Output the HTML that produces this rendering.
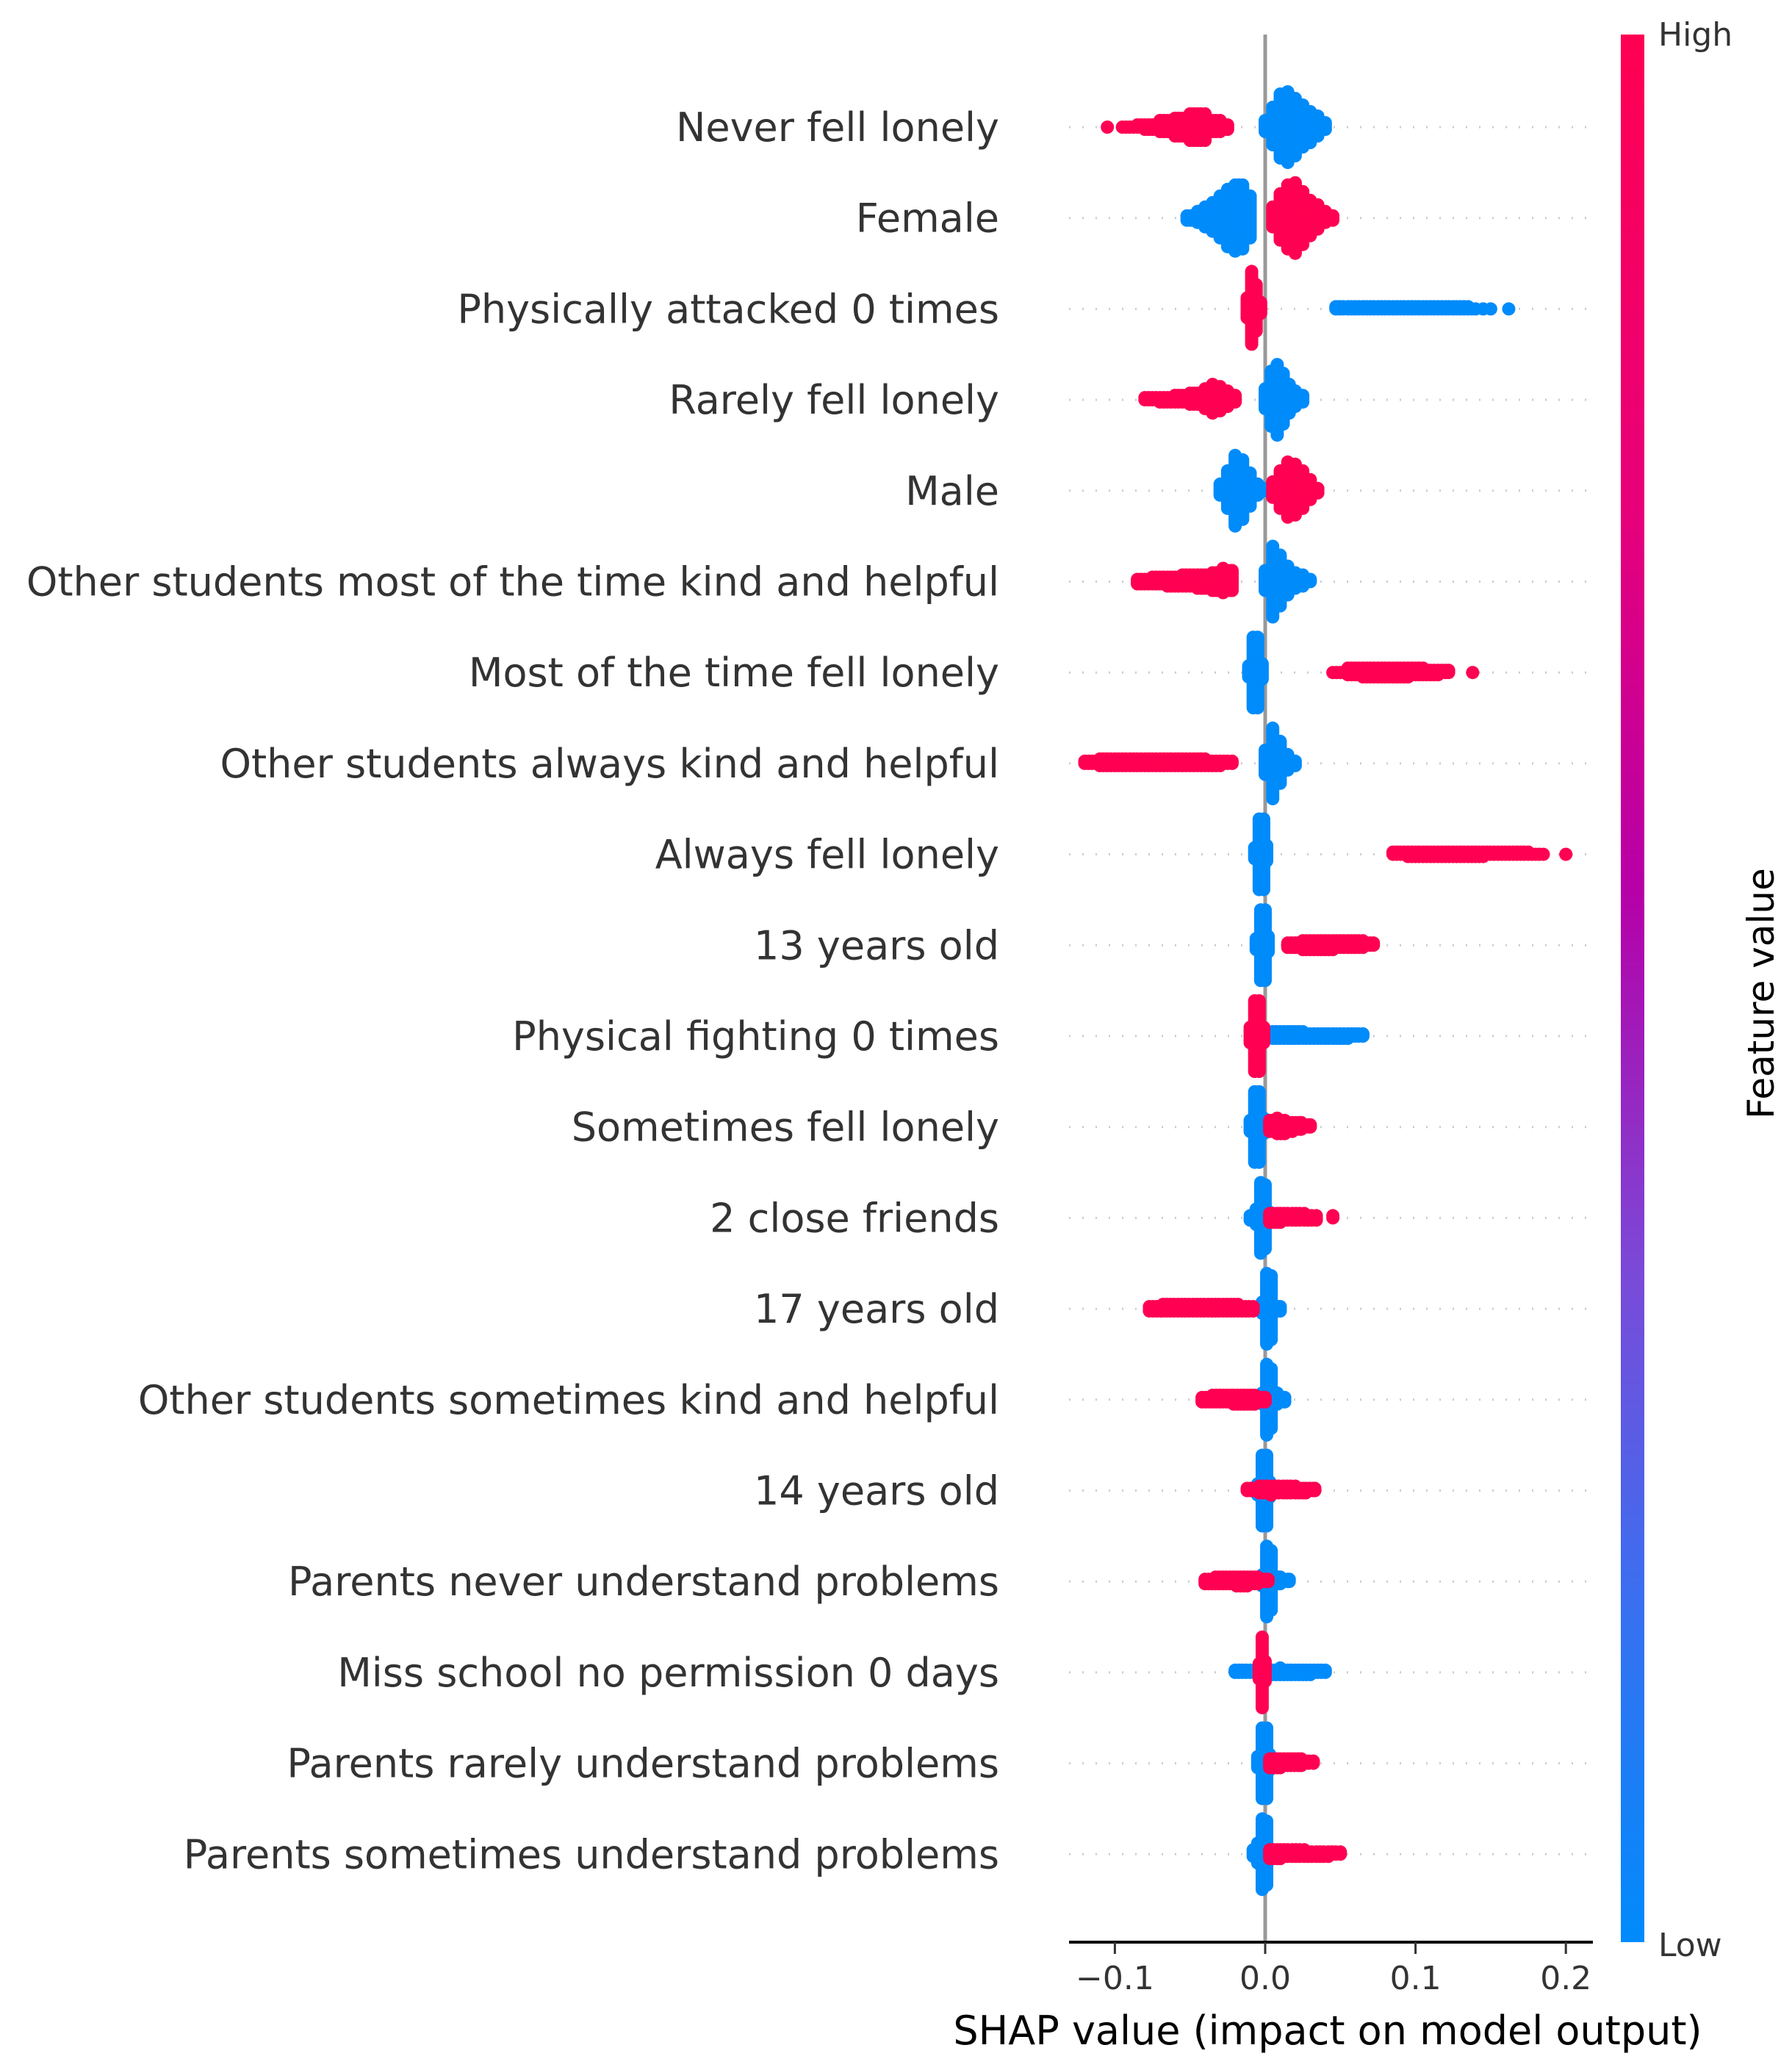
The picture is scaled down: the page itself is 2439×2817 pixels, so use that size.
<!DOCTYPE html>
<html><head><meta charset="utf-8"><style>
html,body{margin:0;padding:0;background:#fff;}
svg{display:block;font-family:"DejaVu Sans","Liberation Sans",sans-serif;}
</style></head><body>
<svg id="chart" width="2439" height="2817" viewBox="0 0 2439 2817" xmlns="http://www.w3.org/2000/svg" style="position:absolute;left:0;top:0">
<defs><linearGradient id="cb" x1="0" y1="0" x2="0" y2="1">
<stop offset="0" stop-color="#ff0052"/><stop offset="0.25" stop-color="#e7007a"/><stop offset="0.45" stop-color="#b600a8"/><stop offset="0.65" stop-color="#7a4ad8"/><stop offset="0.82" stop-color="#3a6ff0"/><stop offset="1" stop-color="#008bfb"/></linearGradient></defs>
<g id="grid"></g><g id="dots"></g><g id="axes"></g>
<text x="1807" y="2782" text-anchor="middle" font-size="54" fill="#000">SHAP value (impact on model output)</text>
<rect x="2206" y="47" width="32" height="2596" fill="url(#cb)"/>
<text x="2257" y="62" font-size="44" fill="#333">High</text>
<text x="2257" y="2662" font-size="44" fill="#333">Low</text>
<text x="2414" y="1352" transform="rotate(-90 2414 1352)" text-anchor="middle" font-size="50" fill="#000">Feature value</text>
</svg>
<script>
const featureNames=["Never fell lonely","Female","Physically attacked 0 times","Rarely fell lonely","Male","Other students most of the time kind and helpful","Most of the time fell lonely","Other students always kind and helpful","Always fell lonely","13 years old","Physical fighting 0 times","Sometimes fell lonely","2 close friends","17 years old","Other students sometimes kind and helpful","14 years old","Parents never understand problems","Miss school no permission 0 days","Parents rarely understand problems","Parents sometimes understand problems"];
const highValues=[
[-0.105,-0.095,-0.085,-0.08,-0.07,-0.06,-0.05,-0.04,-0.03,-0.025],
[0.005,0.01,0.015,0.02,0.025,0.03,0.035,0.04,0.045],
[-0.012,-0.009,-0.006,-0.003],
[-0.08,-0.07,-0.06,-0.05,-0.04,-0.035,-0.03,-0.025,-0.02],
[0.005,0.01,0.015,0.02,0.025,0.03,0.035],
[-0.085,-0.075,-0.065,-0.055,-0.045,-0.035,-0.028,-0.022],
[0.045,0.055,0.065,0.075,0.085,0.095,0.105,0.115,0.122,0.138],
[-0.12,-0.11,-0.1,-0.09,-0.08,-0.07,-0.06,-0.05,-0.04,-0.03,-0.022],
[0.085,0.095,0.105,0.115,0.125,0.135,0.145,0.155,0.165,0.175,0.185,0.2],
[0.015,0.025,0.035,0.045,0.055,0.065,0.072],
[-0.01,-0.007,-0.004,-0.001],
[0.003,0.008,0.013,0.018,0.024,0.03],
[0.003,0.01,0.018,0.026,0.034,0.045],
[-0.077,-0.068,-0.058,-0.048,-0.038,-0.028,-0.018,-0.008],
[-0.042,-0.035,-0.028,-0.021,-0.014,-0.007,0.0],
[-0.012,-0.004,0.004,0.012,0.02,0.027,0.033],
[-0.04,-0.033,-0.026,-0.019,-0.012,-0.005,0.002],
[-0.004,-0.002,0.0],
[0.003,0.01,0.017,0.024,0.032],
[0.003,0.01,0.018,0.026,0.034,0.042,0.05]];
const highCounts=[
[1,1,2,3,6,9,13,13,6,3],
[10,22,30,33,25,17,12,6,3],
[10,34,22,6],
[2,3,4,6,10,14,12,8,4],
[8,18,26,24,18,10,3],
[3,4,5,6,7,9,12,10],
[1,4,5,5,5,5,4,3,2,1],
[2,4,4,4,4,4,4,4,4,3,2],
[2,3,3,3,3,3,3,2,2,2,1,1],
[3,5,5,5,4,4,2],
[8,33,33,8],
[6,8,7,5,4,2],
[5,5,4,4,3,2],
[3,4,4,4,4,4,4,3],
[3,4,4,5,5,5,3],
[2,4,5,4,4,3,2],
[3,4,4,5,5,4,2],
[8,33,10],
[5,5,4,4,2],
[5,5,4,4,3,3,2]];
const lowValues=[
[0.0,0.005,0.01,0.015,0.02,0.025,0.03,0.035,0.04],
[-0.052,-0.045,-0.04,-0.035,-0.03,-0.025,-0.02,-0.015,-0.01],
[0.047,0.055,0.065,0.075,0.085,0.095,0.105,0.115,0.125,0.135,0.14,0.145,0.15,0.162],
[0.0,0.004,0.008,0.012,0.016,0.02,0.025],
[-0.03,-0.025,-0.02,-0.015,-0.01,-0.005,0.0],
[0.0,0.005,0.01,0.015,0.02,0.025,0.03],
[-0.011,-0.008,-0.005,-0.002],
[0.0,0.005,0.01,0.015,0.02],
[-0.007,-0.004,-0.001,0.001],
[-0.006,-0.003,0.0,0.002],
[0.005,0.015,0.025,0.035,0.045,0.055,0.065],
[-0.01,-0.007,-0.004,-0.001],
[-0.01,-0.006,-0.003,0.0,0.002],
[-0.002,0.001,0.004,0.01],
[-0.002,0.001,0.004,0.008,0.013],
[-0.005,-0.002,0.001,0.003],
[-0.002,0.001,0.004,0.01,0.016],
[-0.02,-0.01,0.0,0.01,0.02,0.03,0.04],
[-0.005,-0.002,0.001,0.003],
[-0.008,-0.005,-0.002,0.001]];
const lowCounts=[
[6,18,30,33,27,20,15,10,4],
[3,6,10,14,20,27,31,30,20],
[2,2,2,2,2,2,2,2,2,2,1,1,1,1],
[10,26,33,24,14,8,4],
[6,18,33,28,16,6,2],
[10,33,24,14,8,6,2],
[6,33,33,8],
[12,33,20,8,3],
[6,33,33,8],
[6,33,33,8],
[4,4,4,3,3,3,2],
[6,33,33,8],
[3,8,33,30,6],
[6,33,30,3],
[6,33,28,6,3],
[6,33,33,8],
[6,33,28,4,2],
[2,2,3,4,3,3,2],
[6,33,33,8],
[4,10,33,30]];
const xTicks=[-0.1,0.0,0.1,0.2];
const xTickLabels=["\u22120.1","0.0","0.1","0.2"];

const NS="http://www.w3.org/2000/svg";
const X0=1722,XS=2046,Y0=173,DY=123.7,STEP=3,R=9;
const xPos=v=>X0+v*XS;
const yPos=i=>Y0+i*DY;
function mk(tag,attrs,parent){const e=document.createElementNS(NS,tag);for(const k in attrs)e.setAttribute(k,attrs[k]);parent.appendChild(e);return e;}
const grid=document.getElementById('grid'),dots=document.getElementById('dots'),axes=document.getElementById('axes');

featureNames.forEach((name,i)=>{
  const y=yPos(i);
  const gl=mk('line',{x1:1455,x2:2165,y1:y,y2:y,stroke:'#cccccc','stroke-width':3,'stroke-dasharray':'2 16'},grid);
  
  
  const t=mk('text',{x:1360,y:y+19,'text-anchor':'end','font-size':54,fill:'#333333'},axes);
  t.textContent=name;
  
  
});
const zl=mk('line',{x1:xPos(0),x2:xPos(0),y1:47,y2:2643,stroke:'#999999','stroke-width':5},grid);



function column(g,x,y,n){
  for(let k=0;k<n;k++){
    const off=(k%2?-1:1)*Math.ceil(k/2)*STEP;
    const c=mk('circle',{cx:x,cy:y+off,r:R},g);
    
    
  }
}
function swarm(i,vals,counts,color){
  const g=mk('g',{fill:color},dots);
  
  
  const y=yPos(i);
  vals.forEach((v,j)=>{
    column(g,xPos(v),y,counts[j]);
    if(j+1<vals.length && vals[j+1]-v<=0.0105 && (counts[j]>1||counts[j+1]>1)){
      const xa=xPos(v),xb=xPos(vals[j+1]);
      const n=Math.max(1,Math.min(counts[j],counts[j+1]));
      for(let x=xa+5;x<xb-2;x+=5) column(g,x,y,n);
    }
  });
}
featureNames.forEach((n,i)=>{swarm(i,lowValues[i],lowCounts[i],'#008bfb');swarm(i,highValues[i],highCounts[i],'#ff0052');});

const ax=mk('line',{x1:1455,x2:2168,y1:2643,y2:2643,stroke:'#000','stroke-width':4},axes);


xTicks.forEach((v,j)=>{
  const tk=mk('line',{x1:xPos(v),x2:xPos(v),y1:2643,y2:2659,stroke:'#333','stroke-width':3},axes);
  
  
  const tl=mk('text',{x:xPos(v),y:2707,'text-anchor':'middle','font-size':44,fill:'#333'},axes);
  tl.textContent=xTickLabels[j];
  
  
});
</script>
</body></html>
